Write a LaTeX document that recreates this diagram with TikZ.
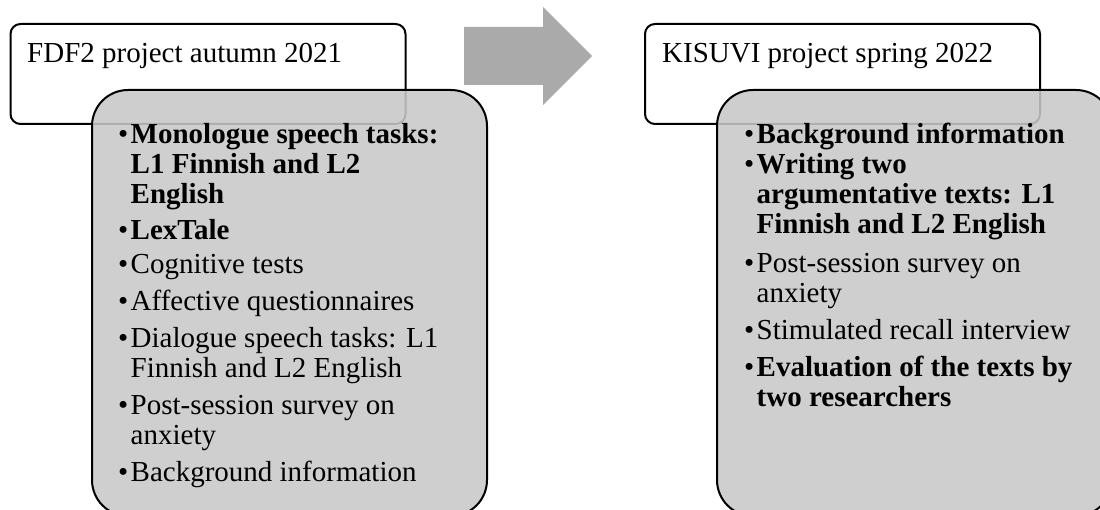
\documentclass[tikz,border=0pt]{standalone}
\usepackage{fontspec}
\setmainfont{Liberation Serif}
\definecolor{boxgray}{RGB}{200,200,200}
\definecolor{arrowgray}{RGB}{170,170,170}
\newcommand{\lbul}{\makebox[12.5pt][l]{\textbullet}}
\begin{document}
\begin{tikzpicture}[x=1pt,y=-1pt,
  titlebox/.style={draw=black, line width=2pt, rounded corners=10pt, fill=white,
    minimum width=395pt, minimum height=100pt, anchor=north west, inner sep=0pt},
  listbox/.style={draw=black, line width=2pt, rounded corners=36pt, fill=boxgray,
    fill opacity=0.88, minimum width=395pt, minimum height=426pt, anchor=north west, inner sep=0pt},
  titletext/.style={anchor=base west, inner sep=0pt, font=\fontsize{29}{33}\selectfont},
  listtext/.style={anchor=base west, inner sep=0pt, align=left, font=\fontsize{29}{30}\selectfont}]
\useasboundingbox (0,0) rectangle (1100,510);
\clip (0,0) rectangle (1100,510);
% title boxes
\node[titlebox] (t1) at (9.5,23) {};
\node[titlebox] (t2) at (644,23) {};
% list boxes
\node[listbox] (l1) at (91,89) {};
\node[listbox] (l2) at (716,89) {};
% arrow
\fill[arrowgray] (464,27) -- (543,27) -- (543,7) -- (592,56) -- (543,105) -- (543,85) -- (464,85) -- cycle;
% titles
\node[titletext] (t1txt) at (27,63) {FDF2 project autumn 2021};
\node[titletext] (t2txt) at (662,63) {KISUVI project spring 2022};
% lists
\node[listtext] (l1txt) at (118,144) {\begin{tabular}[t]{@{}l@{}l@{}}
\lbul & \textbf{Monologue speech tasks:}\\
 & \textbf{L1 Finnish and L2}\\
 & \textbf{English}\\[6pt]
\lbul & \textbf{LexTale}\\[4pt]
\lbul & Cognitive tests\\[7pt]
\lbul & Affective questionnaires\\[7pt]
\lbul & Dialogue speech tasks: L1\\
 & Finnish and L2 English\\[7pt]
\lbul & Post-session survey on\\
 & anxiety\\[7pt]
\lbul & Background information
\end{tabular}};
\node[listtext] (l2txt) at (744,144) {\begin{tabular}[t]{@{}l@{}l@{}}
\lbul & \textbf{Background information}\\
\lbul & \textbf{Writing two}\\
 & \textbf{argumentative texts: L1}\\
 & \textbf{Finnish and L2 English}\\[9pt]
\lbul & Post-session survey on\\
 & anxiety\\[7pt]
\lbul & Stimulated recall interview\\[7pt]
\lbul & \textbf{Evaluation of the texts by}\\
 & \textbf{two researchers}
\end{tabular}};
\end{tikzpicture}
\end{document}
